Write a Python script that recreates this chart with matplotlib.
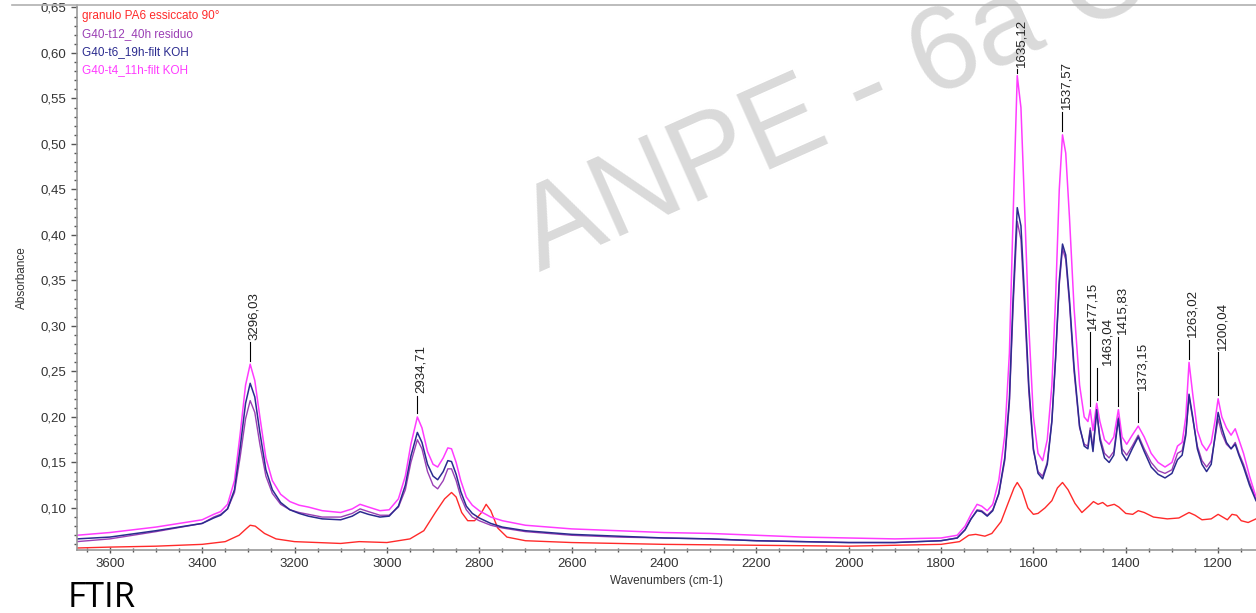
import matplotlib as mpl

mpl.use("Agg")
import matplotlib.pyplot as plt
from matplotlib.ticker import MultipleLocator, FuncFormatter
from matplotlib.lines import Line2D
from matplotlib.transforms import offset_copy

plt.rcParams["font.family"] = ["Liberation Sans", "DejaVu Sans"]

# series names and colours (legend order)
SERIES = [
    "granulo PA6 essiccato 90°",
    "G40-t12_40h residuo",
    "G40-t6_19h-filt KOH",
    "G40-t4_11h-filt KOH",
]
COLORS = ["#ff2a2a", "#9b3fb5", "#2b2b8f", "#ff3cff"]

# red spectrum (own sampling)
wn_red = [3671, 3600, 3500, 3400, 3350, 3320, 3305, 3296, 3285, 3265,
          3240, 3200, 3100, 3060, 3000, 2950, 2920, 2895, 2875, 2860,
          2850, 2838, 2825, 2810, 2795, 2785, 2775, 2760, 2740, 2700,
          2600, 2400, 2200, 2000, 1800, 1760, 1740, 1725, 1705, 1690,
          1670, 1655, 1642, 1635, 1625, 1612, 1600, 1590, 1575, 1560,
          1548, 1537, 1525, 1510, 1495, 1480, 1470, 1460, 1450, 1440,
          1425, 1415, 1400, 1385, 1373, 1360, 1340, 1310, 1285, 1263,
          1250, 1235, 1215, 1200, 1190, 1180, 1170, 1160, 1150, 1135,
          1118]
abs_red = [0.056, 0.057, 0.058, 0.060, 0.063, 0.070, 0.077, 0.081, 0.080, 0.072,
           0.066, 0.063, 0.061, 0.063, 0.062, 0.066, 0.075, 0.095, 0.110, 0.117,
           0.112, 0.095, 0.086, 0.086, 0.095, 0.104, 0.097, 0.078, 0.068, 0.064,
           0.062, 0.060, 0.059, 0.058, 0.060, 0.063, 0.070, 0.071, 0.069, 0.072,
           0.085, 0.105, 0.122, 0.128, 0.120, 0.100, 0.093, 0.094, 0.100, 0.108,
           0.122, 0.128, 0.120, 0.105, 0.095, 0.102, 0.107, 0.104, 0.106, 0.102,
           0.104, 0.101, 0.094, 0.093, 0.097, 0.095, 0.090, 0.088, 0.089, 0.095,
           0.092, 0.087, 0.088, 0.093, 0.090, 0.087, 0.093, 0.092, 0.086, 0.084,
           0.088]

# shared sampling for the three G40 spectra
wn_g40 = [3671, 3600, 3500, 3400, 3375, 3360, 3345, 3330, 3318, 3306,
          3296, 3286, 3275, 3262, 3248, 3230, 3210, 3190, 3170, 3140,
          3100, 3075, 3058, 3040, 3015, 2995, 2975, 2960, 2948, 2934,
          2924, 2912, 2900, 2890, 2878, 2868, 2860, 2850, 2840, 2828,
          2815, 2800, 2775, 2750, 2700, 2600, 2500, 2400, 2300, 2200,
          2100, 2000, 1900, 1800, 1765, 1748, 1735, 1722, 1712, 1700,
          1688, 1675, 1662, 1652, 1644, 1635, 1627, 1619, 1610, 1600,
          1590, 1580, 1570, 1560, 1552, 1544, 1537, 1530, 1522, 1512,
          1500, 1490, 1482, 1477, 1471, 1463, 1456, 1446, 1436, 1426,
          1416, 1408, 1398, 1386, 1373, 1360, 1345, 1330, 1315, 1300,
          1288, 1278, 1270, 1263, 1255, 1245, 1235, 1225, 1215, 1207,
          1200, 1192, 1182, 1172, 1163, 1155, 1145, 1132, 1118]

abs_t12 = [0.063, 0.066, 0.074, 0.083, 0.090, 0.093, 0.099, 0.117, 0.155, 0.198,
           0.218, 0.205, 0.170, 0.135, 0.116, 0.104, 0.098, 0.095, 0.093, 0.090,
           0.090, 0.094, 0.099, 0.096, 0.092, 0.092, 0.101, 0.120, 0.150, 0.175,
           0.165, 0.140, 0.125, 0.121, 0.130, 0.143, 0.143, 0.130, 0.112, 0.098,
           0.090, 0.086, 0.081, 0.078, 0.074, 0.070, 0.068, 0.067, 0.066, 0.064,
           0.063, 0.062, 0.062, 0.064, 0.067, 0.076, 0.088, 0.098, 0.097, 0.092,
           0.098, 0.115, 0.152, 0.215, 0.320, 0.415, 0.395, 0.318, 0.228, 0.163,
           0.140, 0.135, 0.150, 0.196, 0.263, 0.345, 0.385, 0.373, 0.325, 0.250,
           0.188, 0.170, 0.168, 0.188, 0.166, 0.205, 0.178, 0.160, 0.155, 0.162,
           0.200, 0.165, 0.158, 0.168, 0.180, 0.165, 0.150, 0.141, 0.138, 0.142,
           0.160, 0.163, 0.183, 0.222, 0.198, 0.168, 0.152, 0.145, 0.152, 0.176,
           0.198, 0.182, 0.170, 0.165, 0.172, 0.160, 0.148, 0.128, 0.110]

abs_t6 = [0.066, 0.068, 0.075, 0.083, 0.089, 0.092, 0.099, 0.120, 0.165, 0.215,
          0.237, 0.222, 0.183, 0.142, 0.120, 0.106, 0.098, 0.094, 0.091, 0.088,
          0.087, 0.091, 0.096, 0.093, 0.090, 0.091, 0.102, 0.125, 0.157, 0.183,
          0.172, 0.148, 0.135, 0.131, 0.140, 0.152, 0.151, 0.137, 0.118, 0.102,
          0.094, 0.089, 0.083, 0.079, 0.075, 0.071, 0.069, 0.067, 0.066, 0.064,
          0.063, 0.062, 0.062, 0.064, 0.067, 0.076, 0.088, 0.097, 0.096, 0.091,
          0.097, 0.116, 0.155, 0.220, 0.330, 0.430, 0.410, 0.330, 0.235, 0.165,
          0.138, 0.132, 0.148, 0.195, 0.265, 0.350, 0.390, 0.378, 0.330, 0.255,
          0.190, 0.168, 0.165, 0.185, 0.162, 0.208, 0.175, 0.155, 0.150, 0.158,
          0.198, 0.160, 0.152, 0.165, 0.178, 0.162, 0.145, 0.137, 0.133, 0.138,
          0.153, 0.158, 0.180, 0.225, 0.200, 0.165, 0.148, 0.140, 0.148, 0.178,
          0.205, 0.188, 0.172, 0.165, 0.170, 0.158, 0.145, 0.125, 0.108]

abs_t4 = [0.070, 0.073, 0.079, 0.087, 0.093, 0.096, 0.104, 0.130, 0.180, 0.235,
          0.258, 0.240, 0.200, 0.155, 0.130, 0.115, 0.107, 0.103, 0.101, 0.097,
          0.095, 0.099, 0.104, 0.101, 0.097, 0.098, 0.110, 0.135, 0.170, 0.200,
          0.188, 0.162, 0.148, 0.145, 0.155, 0.166, 0.165, 0.150, 0.130, 0.112,
          0.103, 0.097, 0.090, 0.086, 0.081, 0.077, 0.075, 0.073, 0.072, 0.070,
          0.068, 0.067, 0.066, 0.067, 0.070, 0.080, 0.093, 0.104, 0.102, 0.097,
          0.104, 0.130, 0.180, 0.270, 0.420, 0.575, 0.540, 0.430, 0.300, 0.200,
          0.160, 0.152, 0.175, 0.235, 0.330, 0.450, 0.510, 0.490, 0.420, 0.320,
          0.235, 0.200, 0.195, 0.208, 0.185, 0.215, 0.195, 0.175, 0.170, 0.178,
          0.208, 0.178, 0.170, 0.180, 0.190, 0.178, 0.160, 0.150, 0.145, 0.150,
          0.168, 0.172, 0.200, 0.260, 0.225, 0.185, 0.170, 0.163, 0.172, 0.195,
          0.220, 0.200, 0.188, 0.180, 0.187, 0.175, 0.160, 0.135, 0.112]

# peak annotations: position, label, line bottom, line top
peak_wn = [3296.03, 2934.71, 1635.12, 1537.57, 1477.15,
           1463.04, 1415.83, 1373.15, 1263.02, 1200.04]
peak_text = ["3296,03", "2934,71", "1635,12", "1537,57", "1477,15",
             "1463,04", "1415,83", "1373,15", "1263,02", "1200,04"]
peak_low = [0.262, 0.204, 0.578, 0.514, 0.212, 0.219, 0.212, 0.194, 0.264, 0.224]
peak_high = [0.282, 0.223, 0.582, 0.535, 0.293, 0.254, 0.288, 0.227, 0.285, 0.271]
# small sideways nudge of a label (points) where two labels sit close
peak_dx = [0, 0, 0, 0, -1, 5, 0, 0, 0, 0]


def comma(v, pos):
    return f"{v:.2f}".replace(".", ",")


fig = plt.figure(figsize=(12.56, 6.13), dpi=100)
ax = fig.add_axes([77 / 1256, 1 - 550 / 613, 1 - 77 / 1256, 545 / 613])
ax.set_zorder(1)
ax.patch.set_alpha(0)

# watermark behind the axes
fig.text(550 / 1256, 1 - 295 / 613, "ANPE - 6a Com", fontsize=85,
         color="#dadada", rotation=24, ha="left", va="bottom",
         rotation_mode="anchor", zorder=0)

ax.plot(wn_red, abs_red, color=COLORS[0], lw=1.0)
ax.plot(wn_g40, abs_t12, color=COLORS[1], lw=1.0)
ax.plot(wn_g40, abs_t4, color=COLORS[3], lw=1.1)
ax.plot(wn_g40, abs_t6, color=COLORS[2], lw=1.1)

for w, t, lo, hi, dx in zip(peak_wn, peak_text, peak_low, peak_high, peak_dx):
    ax.plot([w, w], [lo, hi], color="black", lw=0.8)
    tr = offset_copy(ax.transData, fig=fig, x=dx - 1.5, y=2, units="points")
    ax.text(w, hi, t, rotation=90, ha="left", va="bottom", transform=tr,
            fontsize=9.5, color="#222222")

ax.set_xlim(3671, 1118)
ax.set_ylim(0.0538, 0.6527)

ax.xaxis.set_major_locator(MultipleLocator(200))
ax.xaxis.set_minor_locator(MultipleLocator(50))
ax.yaxis.set_major_locator(MultipleLocator(0.05))
ax.yaxis.set_minor_locator(MultipleLocator(0.01))
ax.yaxis.set_major_formatter(FuncFormatter(comma))

for s in ["top", "right"]:
    ax.spines[s].set_visible(False)
for s in ["left", "bottom"]:
    ax.spines[s].set_color("#999999")
    ax.spines[s].set_linewidth(1.2)

ax.tick_params(axis="both", which="major", length=4, width=1, color="#555555",
               labelsize=9.5, labelcolor="#333333")
ax.tick_params(axis="both", which="minor", length=2.5, width=1, color="#555555")
ax.tick_params(axis="x", which="both", direction="inout")

ax.set_xlabel("Wavenumbers (cm-1)", fontsize=8.5, color="#333333", labelpad=4)
ax.set_ylabel("Absorbance", fontsize=8.5, color="#333333", labelpad=9)

# legend as coloured text lines
for i, (name, c) in enumerate(zip(SERIES, COLORS)):
    fig.text(82 / 1256, 1 - (16 + 18 * i) / 613, name, color=c, fontsize=8.5,
             va="center", ha="left", zorder=2)

# top frame line
fig.add_artist(Line2D([12 / 1256, 1], [1 - 5 / 613, 1 - 5 / 613],
                      color="#b0b0b0", lw=1.2))

fig.text(68 / 1256, 1 - 598 / 613, "FTIR", fontsize=25, family="Open Sans",
         va="center", ha="left", color="black")

fig.savefig("out.png", dpi=100)
